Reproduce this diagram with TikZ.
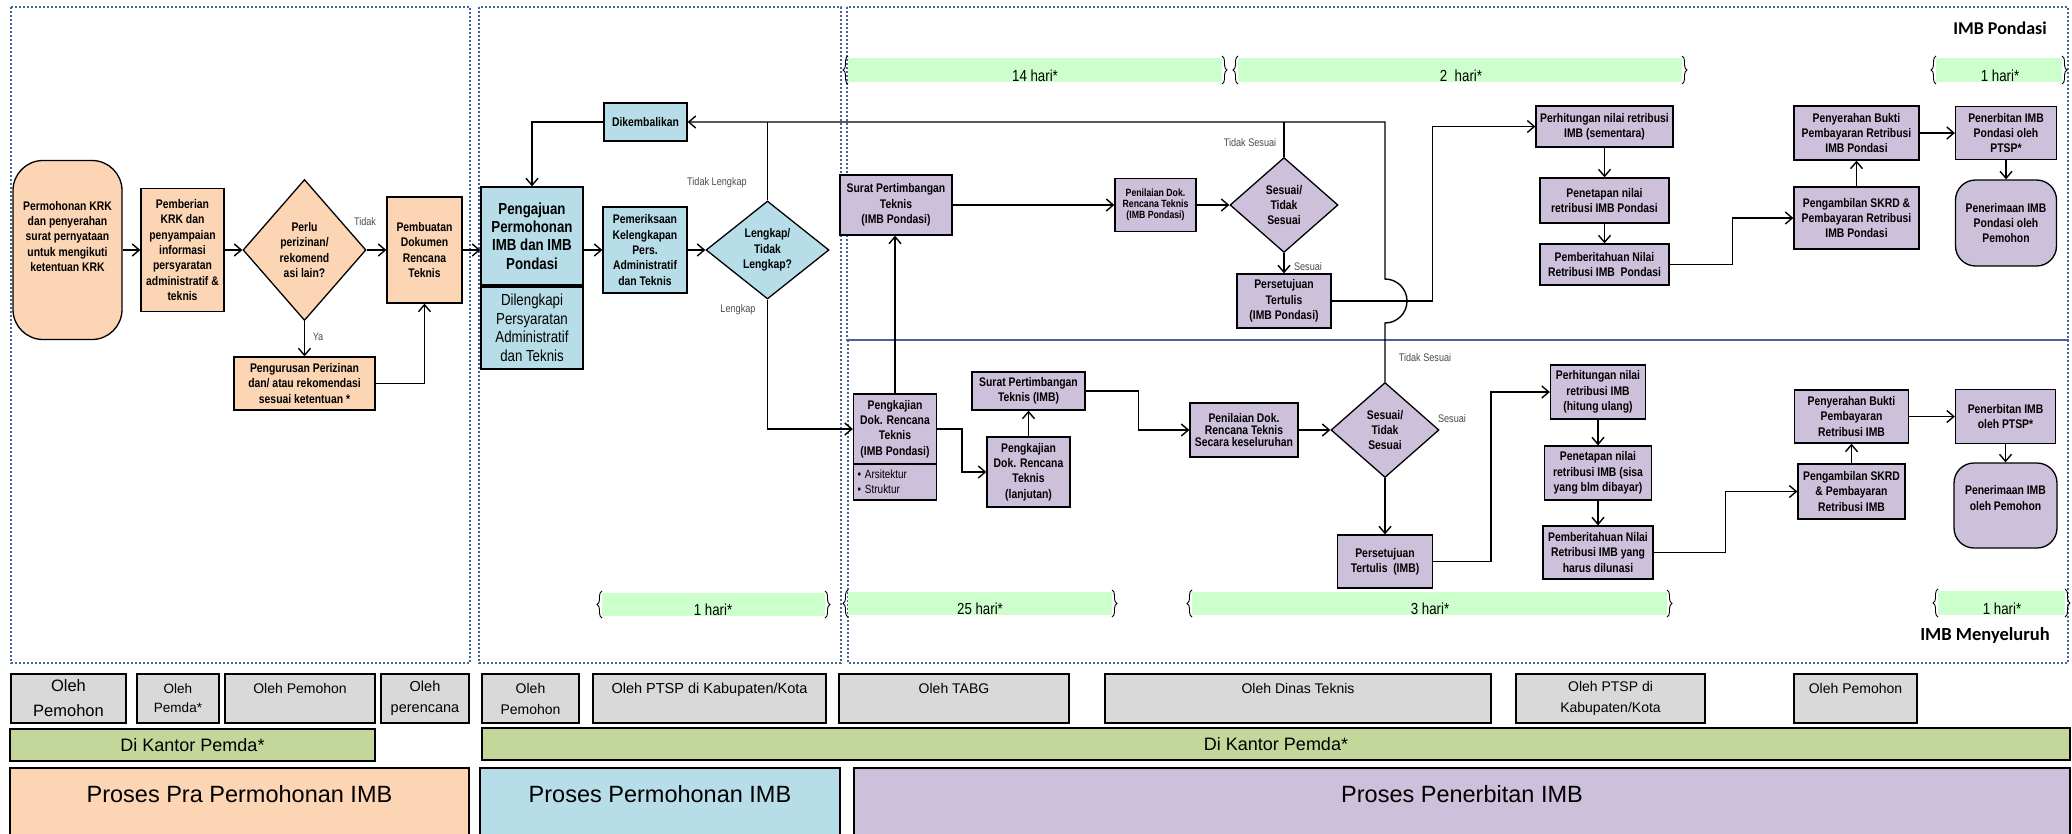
\documentclass[tikz,border=0pt]{standalone}
\usepackage{fontspec}
\setmainfont{Liberation Sans}
\newfontfamily\nrw{Liberation Sans}[FakeStretch=0.83]
\newfontfamily\clb{Carlito}
\usetikzlibrary{shapes.geometric, arrows.meta, decorations.pathreplacing}

\definecolor{praC}{HTML}{FCD5B4}
\definecolor{mohonC}{HTML}{B7DEE8}
\definecolor{terbitC}{HTML}{CCC0DA}
\definecolor{olehC}{HTML}{D9D9D9}
\definecolor{kantorC}{HTML}{C4D79B}
\definecolor{hariC}{HTML}{CCFFCC}
\definecolor{frameC}{RGB}{70,100,150}

\tikzset{
  sz/.style 2 args={minimum width=#1pt, minimum height=#2pt},
  bx/.style={draw, line width=1.3pt, inner sep=0pt, align=center,
    font=\nrw\bfseries\fontsize{12.5}{15.3}\selectfont},
  pra/.style={bx, fill=praC},
  mohon/.style={bx, fill=mohonC},
  terbit/.style={bx, fill=terbitC},
  term/.style={rounded corners=20pt},
  cek/.style={diamond},
  arw/.style={line width=1.4pt, -{Straight Barb[length=7pt,width=12pt]}},
  ln/.style={line width=1.4pt},
  lbl/.style={text=black!70, inner sep=0pt, font=\nrw\fontsize{11}{13}\selectfont},
  oleh/.style={draw, line width=1.1pt, fill=olehC, align=center, inner sep=0pt,
    font=\fontsize{14}{21}\selectfont},
  kantor/.style={draw, line width=1.1pt, fill=kantorC, inner sep=0pt,
    font=\fontsize{18}{22}\selectfont},
  proses/.style={draw, line width=1.1pt, align=center, inner sep=0pt,
    font=\fontsize{23.5}{30}\selectfont},
  hari/.style={anchor=base, inner sep=0pt, font=\nrw\fontsize{16}{18}\selectfont},
  frame/.style={draw=frameC, line width=2.4pt, dash pattern=on 2.2pt off 1.8pt},
  kurung/.style={decorate, decoration={brace, amplitude=5pt}, line width=0.9pt},
}

\begin{document}
\begin{tikzpicture}[x=1pt, y=-1pt]
  \useasboundingbox (0,0) rectangle (2072,833);
  \clip (0,0) rectangle (2072,833);

  % dotted frames of the three stages
  \draw[frame] (11,7) rectangle (470,663);
  \draw[frame] (479,7) rectangle (841,663);
  \draw[frame] (847,7) rectangle (2068,340);
  \draw[frame] (848,340) rectangle (2068,663);

  % time bars
  \foreach \xa/\xb/\ya/\yb/\tx/\tl [count=\i] in {
      848/1222/58/82/1035/{14 hari*},
      1238/1682/58/82/1461/{2\ \ hari*},
      1936/2062/58/82/2000/{1 hari*},
      602/825/593/616/713/{1 hari*},
      848/1112/592/615/980/{25 hari*},
      1192/1667/592/615/1430/{3 hari*},
      1938/2065/591/615/2002/{1 hari*}} {
    \fill[hariC] (\xa,\ya) rectangle (\xb,\yb);
    \draw[kurung] (\xa,\yb+2) -- (\xa,\ya-2);
    \draw[kurung] (\xb,\ya-2) -- (\xb,\yb+2);
    \node[hari] (hari\i) at (\tx,\yb-1) {\tl};
  }

  \node[font=\clb\bfseries\fontsize{18}{20}\selectfont] (judulA) at (2000,28) {IMB Pondasi};
  \node[font=\clb\bfseries\fontsize{18.5}{20}\selectfont] (judulB) at (1985,635) {IMB Menyeluruh};

  % who does it
  \node[oleh, sz={115}{49}, font=\fontsize{16.5}{25}\selectfont] (oleh1) at (68.5,698.5) {Oleh\\Pemohon};
  \node[oleh, sz={82}{49}, font=\fontsize{13.5}{19}\selectfont] (oleh2) at (178,698.5) {Oleh\\Pemda*};
  \node[oleh, sz={150}{49}] (oleh3) at (300,698.5) {Oleh Pemohon\\~};
  \node[oleh, sz={88}{49}, font=\fontsize{14.5}{21}\selectfont] (oleh4) at (425,698.5) {Oleh\\perencana};
  \node[oleh, sz={97}{49}] (oleh5) at (530.5,698.5) {Oleh\\Pemohon};
  \node[oleh, sz={233}{49}, font=\fontsize{14.5}{21}\selectfont] (oleh6) at (709.5,698.5) {Oleh PTSP di Kabupaten/Kota\\~};
  \node[oleh, sz={230}{49}] (oleh7) at (954,698.5) {Oleh TABG\\~};
  \node[oleh, sz={386}{49}] (oleh8) at (1298,698.5) {Oleh Dinas Teknis\\~};
  \node[oleh, sz={189}{49}] (oleh9) at (1610.5,698.5) {Oleh PTSP di\\Kabupaten/Kota};
  \node[oleh, sz={123}{49}] (oleh10) at (1855.5,698.5) {Oleh Pemohon\\~};

  \node[kantor, sz={365}{32}] (kantor1) at (192.5,745) {Di Kantor Pemda*};
  \node[kantor, sz={1588}{32}] (kantor2) at (1276,744) {Di Kantor Pemda*};

  \node[proses, fill=praC, sz={459}{82}] (proses1) at (239.5,809) {Proses Pra Permohonan IMB\\~};
  \node[proses, fill=mohonC, sz={360}{82}] (proses2) at (660,809) {Proses Permohonan IMB\\~};
  \node[proses, fill=terbitC, sz={1216}{82}] (proses3) at (1462,809) {Proses Penerbitan IMB\\~};

  % Proses Pra Permohonan IMB
  \node[pra, term, rounded corners=30pt, sz={109}{179}] (krk) at (67.5,250)
    {Permohonan KRK\\dan penyerahan\\surat pernyataan\\untuk mengikuti\\ketentuan KRK\\[12pt]~};
  \node[pra, sz={83}{123}] (beri) at (182.5,250)
    {Pemberian\\KRK dan\\penyampaian\\informasi\\persyaratan\\administratif \&\\teknis};
  \node[pra, cek, sz={123}{141}] (perlu) at (304.5,250) {Perlu\\perizinan/\\rekomend\\asi lain?};
  \node[pra, sz={75}{106}] (buat) at (424.5,250) {Pembuatan\\Dokumen\\Rencana\\Teknis};
  \node[pra, sz={141}{53}] (urus) at (304.5,383.5)
    {Pengurusan Perizinan\\dan/ atau rekomendasi\\sesuai ketentuan *};

  % Proses Permohonan IMB
  \node[mohon, sz={102}{98}, font=\nrw\bfseries\fontsize{16}{18.3}\selectfont] (ajuan) at (532,236)
    {Pengajuan\\Permohonan\\IMB dan IMB\\Pondasi};
  \node[mohon, sz={102}{82}, font=\nrw\fontsize{16}{18.5}\selectfont] (lengkapi) at (532,328)
    {Dilengkapi\\Persyaratan\\Administratif\\dan Teknis};
  \node[mohon, sz={84}{86}] (periksa) at (645,250)
    {Pemeriksaan\\Kelengkapan\\Pers.\\Administratif\\dan Teknis};
  \node[mohon, cek, sz={123}{98}] (lengkap) at (767.5,250) {Lengkap/\\Tidak\\Lengkap?};
  \node[mohon, sz={83}{38}] (kembali) at (645.5,122) {Dikembalikan};

  % Proses Penerbitan IMB: IMB Pondasi
  \node[terbit, sz={112}{60}] (suratA) at (896,205) {Surat Pertimbangan\\Teknis\\(IMB Pondasi)};
  \node[terbit, sz={81}{53}, font=\nrw\bfseries\fontsize{10.5}{11}\selectfont] (nilaiA) at (1155.5,205)
    {Penilaian Dok.\\Rencana Teknis\\(IMB Pondasi)};
  \node[terbit, cek, sz={108}{95}] (sesuaiA) at (1284,205) {Sesuai/\\Tidak\\Sesuai};
  \node[terbit, sz={94}{54}] (setujuA) at (1284,301) {Persetujuan\\Tertulis\\(IMB Pondasi)};
  \node[terbit, sz={137}{41}] (hitungA) at (1604.5,126.5) {Perhitungan nilai retribusi\\IMB (sementara)};
  \node[terbit, sz={129}{45}] (tetapA) at (1604.5,200.5) {Penetapan nilai\\retribusi IMB Pondasi};
  \node[terbit, sz={129}{41}] (beritaA) at (1604.5,264.5) {Pemberitahuan Nilai\\Retribusi IMB\ \ Pondasi};
  \node[terbit, sz={125}{54}] (serahA) at (1856.5,133) {Penyerahan Bukti\\Pembayaran Retribusi\\IMB Pondasi};
  \node[terbit, sz={125}{62}] (ambilA) at (1856.5,218) {Pengambilan SKRD \&\\Pembayaran Retribusi\\IMB Pondasi};
  \node[terbit, sz={101}{53}] (terbitA) at (2006,133) {Penerbitan IMB\\Pondasi oleh\\PTSP*};
  \node[terbit, term, sz={101}{86}] (terimaA) at (2006,223) {Penerimaan IMB\\Pondasi oleh\\Pemohon};

  % Proses Penerbitan IMB: IMB Menyeluruh
  \node[terbit, sz={83}{70}] (kajiB) at (895,429) {Pengkajian\\Dok. Rencana\\Teknis\\(IMB Pondasi)};
  \node[terbit, sz={83}{36}, align=left, text width=75pt, inner xsep=4pt,
    font=\nrw\fontsize{12}{15}\selectfont] (kajiSub) at (895,482) {• Arsitektur\\• Struktur};
  \node[terbit, sz={113}{38}] (suratB) at (1028.5,391) {Surat Pertimbangan\\Teknis (IMB)};
  \node[terbit, sz={83}{70}] (lanjut) at (1028.5,472) {Pengkajian\\Dok. Rencana\\Teknis\\(lanjutan)};
  \node[terbit, sz={108}{54}, font=\nrw\bfseries\fontsize{12.5}{12}\selectfont] (nilaiB) at (1244,430)
    {Penilaian Dok.\\Rencana Teknis\\Secara keseluruhan};
  \node[terbit, cek, sz={108}{95}] (sesuaiB) at (1385,430) {Sesuai/\\Tidak\\Sesuai};
  \node[terbit, sz={95}{53}] (setujuB) at (1385,561.5) {Persetujuan\\Tertulis\ \ (IMB)};
  \node[terbit, sz={95}{54}] (hitungB) at (1598,392) {Perhitungan nilai\\retribusi IMB\\(hitung ulang)};
  \node[terbit, sz={107}{54}] (tetapB) at (1598,473) {Penetapan nilai\\retribusi IMB (sisa\\yang blm dibayar)};
  \node[terbit, sz={110}{53}] (beritaB) at (1598,552.5) {Pemberitahuan Nilai\\Retribusi IMB yang\\harus dilunasi};
  \node[terbit, sz={114}{53}] (serahB) at (1851.5,416.5) {Penyerahan Bukti\\Pembayaran\\Retribusi IMB};
  \node[terbit, sz={107}{55}] (ambilB) at (1851.5,491.5) {Pengambilan SKRD\\\& Pembayaran\\Retribusi IMB};
  \node[terbit, sz={100}{54}] (terbitB) at (2005.5,416.5) {Penerbitan IMB\\oleh PTSP*};
  \node[terbit, term, sz={103}{85}] (terimaB) at (2005.5,505.5) {Penerimaan IMB\\oleh Pemohon\\[0pt]~};

  % connectors
  \draw[arw] (krk) -- (beri);
  \draw[arw] (beri) -- (perlu);
  \draw[arw] (perlu) -- (buat);
  \draw[arw] (perlu) -- (urus);
  \draw[arw] (urus) -| (buat);
  \draw[arw] (buat.east) -- (buat.east -| ajuan.west);
  \draw[arw] (kembali) -| (ajuan);
  \draw[arw] (ajuan.east |- periksa) -- (periksa);
  \draw[arw] (periksa) -- (lengkap);
  \draw[ln] (lengkap) -- (lengkap |- kembali);
  \draw[arw] (lengkap) |- (kajiB);

  \draw[arw] (kajiB) -- (kajiB |- suratA.south);
  \draw[arw] (suratA) -- (nilaiA);
  \draw[arw] (nilaiA) -- (sesuaiA);
  \draw[ln] (sesuaiA) -- (sesuaiA |- kembali);
  \draw[arw] (sesuaiA) -- (setujuA);
  \coordinate (hop) at (sesuaiB.north |- setujuA.east);
  \draw[arw] (sesuaiB.north) -- ([yshift=-22pt]hop) arc[start angle=-90, end angle=90, radius=22pt]
    -- (sesuaiB.north |- kembali.east) -- (kembali.east);
  \draw[arw] (setujuA.east) -- ++(101,0) |- (hitungA.west);
  \draw[arw] (hitungA) -- (tetapA);
  \draw[arw] (tetapA) -- (beritaA);
  \draw[arw] (beritaA.east) -- ++(63,0) |- (ambilA.west);
  \draw[arw] (ambilA) -- (serahA);
  \draw[arw] (serahA) -- (terbitA);
  \draw[arw] (terbitA) -- (terimaA);

  \draw[arw] (kajiB.east) -- ++(25,0) |- (lanjut.west);
  \draw[arw] (lanjut) -- (suratB);
  \draw[arw] (suratB.east) -- ++(53,0) |- (nilaiB.west);
  \draw[arw] (nilaiB) -- (sesuaiB);
  \draw[arw] (sesuaiB) -- (setujuB);
  \draw[arw] (setujuB.east) -- ++(58,0) |- (hitungB.west);
  \draw[arw] (hitungB) -- (tetapB);
  \draw[arw] (tetapB) -- (beritaB);
  \draw[arw] (beritaB.east) -- ++(72,0) |- (ambilB.west);
  \draw[arw] (ambilB) -- (serahB);
  \draw[arw] (serahB) -- (terbitB);
  \draw[arw] (terbitB) -- (terimaB);

  % branch labels
  \node[lbl] (tidak1) at (365,222) {Tidak};
  \node[lbl] (ya1) at (318,337) {Ya};
  \node[lbl] (tidak2) at (717,183) {Tidak Lengkap};
  \node[lbl] (ada2) at (738,310) {Lengkap};
  \node[lbl] (tidakA) at (1250,143) {Tidak Sesuai};
  \node[lbl] (sesuaiAl) at (1308,267) {Sesuai};
  \node[lbl] (tidakB) at (1425,358) {Tidak Sesuai};
  \node[lbl] (sesuaiBl) at (1452,419) {Sesuai};
\end{tikzpicture}
\end{document}
